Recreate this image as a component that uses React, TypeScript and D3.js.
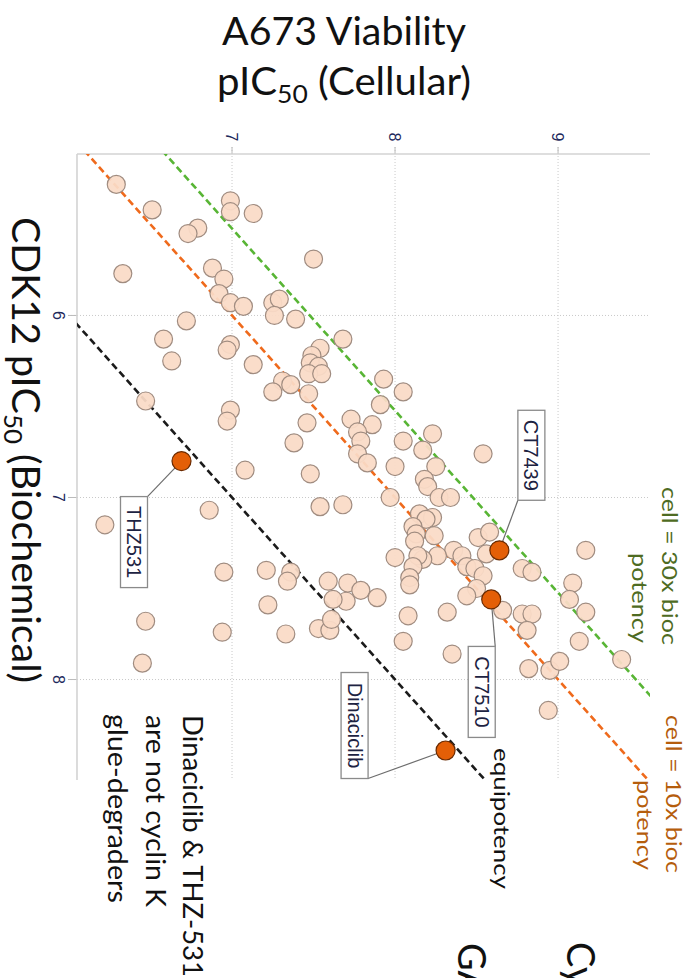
import React from 'react';
import * as d3 from 'd3';

// A673 viability pIC50 (cellular) per CDK12 compound
const cellular = [
  6.29, 6.51, 6.99, 6.99, 7.13, 6.79, 6.73, 7.5, 6.33, 6.88,
  6.95, 6.92, 6.99, 7.07, 7.25, 7.29, 7.26, 7.39, 6.72, 6.58,
  6.63, 7.68, 7.54, 7.49, 7.48, 7.53, 7.47, 7.55, 6.99, 6.97,
  7.13, 7.31, 7.36, 7.25, 7.47, 7.93, 8.05, 7.91, 6.47, 6.99,
  6.97, 7.46, 7.73, 7.86, 7.77, 7.79, 7.77, 7.83, 7.38, 8.05,
  8.23, 8.17, 8.54, 8.0, 8.25, 8.18, 8.2, 7.68, 7.97, 8.27,
  8.34, 8.15, 8.23, 8.19, 8.11, 8.13, 8.12, 8.24, 8.0, 8.51,
  8.58, 8.56, 8.36, 8.41, 8.26, 8.17, 8.14, 8.11, 8.09, 8.09,
  8.44, 8.49, 8.54, 8.5, 8.44, 8.66, 8.78, 8.84, 7.71, 7.79,
  7.89, 7.7, 8.08, 8.32, 8.78, 8.84, 8.81, 9.17, 9.09, 9.07,
  9.17, 8.05, 9.13, 9.39, 8.35, 8.82, 8.95, 9.01, 8.94, 7.08,
  7.48, 7.54, 6.86, 6.22, 6.95, 7.21, 7.36, 7.34, 7.59, 7.62,
  7.22, 6.47, 6.94, 7.33, 7.53, 7.6, 7.61, 6.45,
];

// CDK12 pIC50 (biochemical), same order as above
const biochemical = [
  5.28, 5.42, 5.37, 5.43, 5.44, 5.52, 5.55, 5.69, 5.77, 5.74,
  5.8, 5.88, 5.93, 5.95, 5.93, 5.91, 6.0, 6.02, 6.03, 6.13,
  6.25, 6.13, 6.18, 6.22, 6.26, 6.28, 6.32, 6.32, 6.16, 6.19,
  6.27, 6.36, 6.38, 6.42, 6.43, 6.35, 6.42, 6.49, 6.47, 6.52,
  6.58, 6.59, 6.57, 6.6, 6.64, 6.69, 6.76, 6.81, 6.7, 6.69,
  6.65, 6.74, 6.76, 6.83, 6.83, 6.9, 6.94, 7.04, 7.0, 7.0,
  7.0, 7.09, 7.11, 7.12, 7.16, 7.2, 7.24, 7.21, 7.33, 7.22,
  7.19, 7.31, 7.29, 7.32, 7.32, 7.34, 7.32, 7.38, 7.44, 7.48,
  7.38, 7.39, 7.43, 7.5, 7.54, 7.62, 7.39, 7.41, 7.47, 7.51,
  7.55, 7.57, 7.65, 7.63, 7.64, 7.64, 7.73, 7.29, 7.47, 7.56,
  7.63, 7.79, 7.79, 7.89, 7.86, 7.94, 7.95, 7.9, 8.17, 6.85,
  6.87, 7.05, 7.07, 7.15, 7.41, 7.4, 7.41, 7.46, 7.46, 7.56,
  7.59, 7.68, 7.74, 7.75, 7.72, 7.73, 7.67, 7.91,
];

// Named reference compounds
const namedCompounds = ['CT7439', 'CT7510', 'THZ531', 'Dinaciclib'];
const namedCellular = [8.64, 8.59, 6.69, 8.31];
const namedBiochemical = [7.29, 7.56, 6.8, 8.39];

const cellularTicks = [7, 8, 9];
const biochemicalTicks = [6, 7, 8];

// Cellular potency relative to biochemical potency (fold)
const foldShifts = [1, 10, 30];

// ---- layout & styles ----
const W = 692;
const H = 978;
const PL = 77;
const PR = 650;
const PT = 154;
const PB = 780;

const guideColors = ['#1b1b1b', '#ef6a1c', '#58b535'];
const sans = 'Lato, "Open Sans", sans-serif';
const small = '"Liberation Sans", Arial, sans-serif';

// label box placement relative to each named point: box centre offset, size, leader corner
const labelBoxes = [
  { dx: 32, dy: -95, w: 27, h: 90, ax: -13.5, ay: 45 },
  { dx: -9.5, dy: 92.5, w: 27, h: 91, ax: 13.5, ay: -45.5 },
  { dx: -47.5, dy: 81, w: 27, h: 91, ax: 13.5, ay: -45.5 },
  { dx: -91, dy: -25, w: 27, h: 106, ax: 13.5, ay: 53 },
];

type RotProps = {
  x: number;
  y: number;
  anchor?: 'start' | 'middle' | 'end';
  size: number;
  fill?: string;
  len?: number;
  family?: string;
  children: React.ReactNode;
};

// Text turned a quarter clockwise, reading top to bottom; (x, y) sits on the glyph centre line
function Rot({ x, y, anchor = 'start', size, fill = '#111', len, family = sans, children }: RotProps) {
  return (
    <text
      transform={`translate(${x},${y}) rotate(90)`}
      textAnchor={anchor}
      dy="0.35em"
      fontSize={size}
      fill={fill}
      fontFamily={family}
      textLength={len}
      lengthAdjust={len ? 'spacingAndGlyphs' : undefined}
    >
      {children}
    </text>
  );
}

export default function App() {
  const x = d3.scaleLinear().domain([6.049, 9.564]).range([PL, PR]);
  const y = d3.scaleLinear().domain([5.113, 8.552]).range([PT, PB]);

  const [b0, b1] = y.domain();
  const guides = foldShifts.map((f, i) => {
    const off = Math.log10(f);
    const line = d3
      .line<number>()
      .x((b) => x(b + off))
      .y((b) => y(b));
    return { d: line([b0 - 2, b1 + 2]) || '', color: guideColors[i] };
  });

  const points = cellular.map((c, i) => ({ c, b: biochemical[i] }));
  const named = namedCompounds.map((name, i) => ({
    name,
    px: x(namedCellular[i]),
    py: y(namedBiochemical[i]),
    box: labelBoxes[i],
  }));

  const gridColor = '#c9c9c9';

  return (
    <svg
      width={W}
      height={H}
      viewBox={`0 0 ${W} ${H}`}
      style={{ position: 'absolute', left: 0, top: 0, background: '#fff' }}
    >
      <defs>
        <clipPath id="plotArea">
          <rect x={PL} y={PT} width={PR - PL} height={PB - PT} />
        </clipPath>
      </defs>

      {/* title */}
      <text x={344} y={45} textAnchor="middle" fontSize={38} fontFamily={sans} fill="#111" textLength={244} lengthAdjust="spacingAndGlyphs">
        A673 Viability
      </text>
      <text x={344} y={95} textAnchor="middle" fontSize={38} fontFamily={sans} fill="#111" textLength={254} lengthAdjust="spacingAndGlyphs">
        pIC<tspan dy={8} fontSize={25}>50</tspan>
        <tspan dy={-8}> (Cellular)</tspan>
      </text>

      {/* grid */}
      {cellularTicks.map((t) => (
        <line key={'gx' + t} x1={x(t)} x2={x(t)} y1={PT - 7} y2={PB} stroke={gridColor} strokeWidth={1} strokeDasharray="1 2" />
      ))}
      {biochemicalTicks.map((t) => (
        <line key={'gy' + t} x1={PL - 9} x2={PR} y1={y(t)} y2={y(t)} stroke={gridColor} strokeWidth={1} strokeDasharray="1 2" />
      ))}
      {cellularTicks.map((t) => (
        <line key={'tx' + t} x1={x(t)} x2={x(t)} y1={PT - 7} y2={PT} stroke="#bbb" strokeWidth={1} />
      ))}
      {biochemicalTicks.map((t) => (
        <line key={'ty' + t} x1={PL - 9} x2={PL} y1={y(t)} y2={y(t)} stroke="#bbb" strokeWidth={1} />
      ))}

      {/* axis lines */}
      <line x1={PL} x2={PR} y1={PT} y2={PT} stroke="#d3d3d3" strokeWidth={1.6} />
      <line x1={PL} x2={PL} y1={PT} y2={PB} stroke="#d3d3d3" strokeWidth={1.6} />

      {/* tick labels */}
      {cellularTicks.map((t) => (
        <Rot key={'lx' + t} x={x(t)} y={137} anchor="middle" size={16} fill="#1e2a5c" family={small}>
          {t}
        </Rot>
      ))}
      {biochemicalTicks.map((t) => (
        <Rot key={'ly' + t} x={59} y={y(t)} anchor="middle" size={16} fill="#1e2a5c" family={small}>
          {t}
        </Rot>
      ))}

      {/* fold-potency guides */}
      <g clipPath="url(#plotArea)">
        {guides.map((g, i) => (
          <path key={'g' + i} d={g.d} fill="none" stroke={g.color} strokeWidth={2.6} strokeDasharray="7 4" />
        ))}
      </g>

      {/* leaders */}
      {named.map((n) => (
        <line
          key={'ld' + n.name}
          x1={n.px}
          y1={n.py}
          x2={n.px + n.box.dx + n.box.ax}
          y2={n.py + n.box.dy + n.box.ay}
          stroke="#6d6d6d"
          strokeWidth={1.2}
        />
      ))}

      {/* compounds */}
      {points.map((p, i) => (
        <circle key={'p' + i} cx={x(p.c)} cy={y(p.b)} r={9} fill="#fadbc7" fillOpacity={0.94} stroke="#a08c80" strokeWidth={1.2} />
      ))}
      {named.map((n) => (
        <circle key={'n' + n.name} cx={n.px} cy={n.py} r={9.5} fill="#e45f07" stroke="#6a2a00" strokeWidth={1.2} />
      ))}

      {/* label boxes */}
      {named.map((n) => {
        const cx = n.px + n.box.dx;
        const cy = n.py + n.box.dy;
        return (
          <g key={'lb' + n.name}>
            <rect x={cx - n.box.w / 2} y={cy - n.box.h / 2} width={n.box.w} height={n.box.h} fill="#fff" stroke="#8a8a8a" strokeWidth={1.3} />
            <Rot x={cx} y={cy} anchor="middle" size={20} fill="#1d2342" family={small}>
              {n.name}
            </Rot>
          </g>
        );
      })}

      {/* y-axis title */}
      <text
        transform="translate(25,450) rotate(90)"
        textAnchor="middle"
        dy="0.35em"
        fontSize={38}
        fontFamily={sans}
        fill="#111"
        textLength={466}
        lengthAdjust="spacingAndGlyphs"
      >
        CDK12 pIC<tspan dy={8} fontSize={25}>50</tspan>
        <tspan dy={-8}> (Biochemical)</tspan>
      </text>

      {/* guide annotations */}
      <Rot x={670} y={645} anchor="end" size={22} fill="#4e6b22" len={158}>cell = 30x bioc</Rot>
      <Rot x={640} y={643} anchor="end" size={22} fill="#4e6b22" len={90}>potency</Rot>
      <Rot x={674} y={873} anchor="end" size={22} fill="#b55d0c" len={158}>cell = 10x bioc</Rot>
      <Rot x={645} y={870} anchor="end" size={22} fill="#b55d0c" len={90}>potency</Rot>
      <Rot x={502} y={748} anchor="start" size={22} fill="#111" len={141}>equipotency</Rot>

      <Rot x={192} y={715} anchor="start" size={26} fill="#111" len={262}>Dinaciclib &amp; THZ-531</Rot>
      <Rot x={155} y={715} anchor="start" size={26} fill="#111" len={192}>are not cyclin K</Rot>
      <Rot x={117} y={714} anchor="start" size={26} fill="#111" len={189}>glue-degraders</Rot>

      <Rot x={580} y={942} anchor="start" size={38} fill="#111">Cy</Rot>
      <Rot x={471} y={943} anchor="start" size={38} fill="#111">GA</Rot>
    </svg>
  );
}
